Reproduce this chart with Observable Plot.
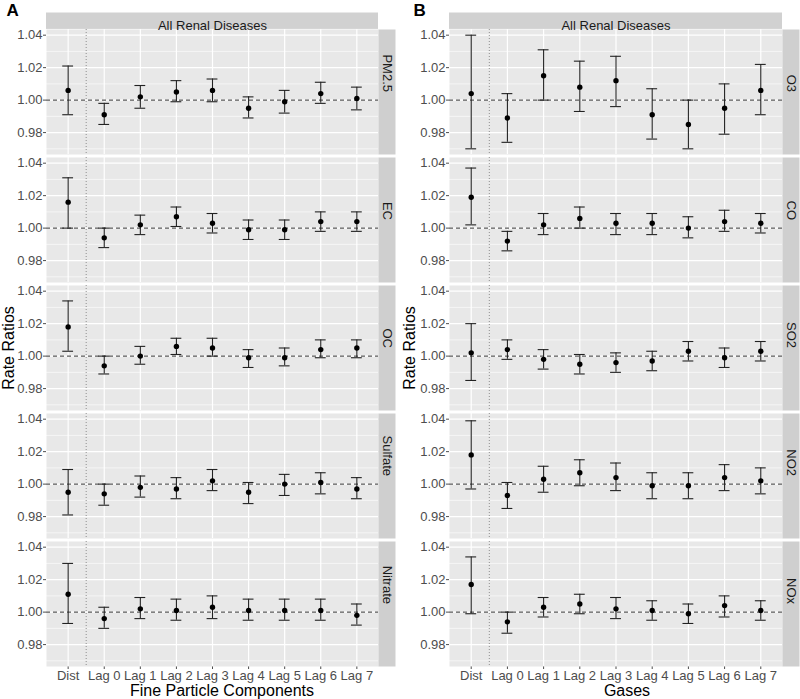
<!DOCTYPE html>
<html><head><meta charset="utf-8">
<script src="https://cdn.jsdelivr.net/npm/d3@7"></script>
<script src="https://cdn.jsdelivr.net/npm/@observablehq/plot@0.6"></script>
<style>
body{margin:0;background:#fff;}
#wrap{position:relative;width:800px;height:699px;overflow:hidden;font-family:"Liberation Sans",Arial,Helvetica,sans-serif;}
#A,#B{position:absolute;top:0;}
#A{left:0}#B{left:400px}
#overlay{position:absolute;left:0;top:0;pointer-events:none}
</style></head><body>
<div id="wrap"><div id="A"></div><div id="B"></div>
<svg id="overlay" width="800" height="699" font-family="Liberation Sans, Arial, sans-serif">
<text x="6.5" y="15.5" font-size="17" font-weight="bold" fill="#000">A</text>
<text x="413.5" y="15.5" font-size="17" font-weight="bold" fill="#000">B</text>
<text transform="translate(14,348) rotate(-90)" text-anchor="middle" font-size="16" fill="#000">Rate Ratios</text>
<text transform="translate(414.5,348) rotate(-90)" text-anchor="middle" font-size="16" fill="#000">Rate Ratios</text>
<text x="222" y="696" text-anchor="middle" font-size="16" fill="#000">Fine Particle Components</text>
<text x="627" y="696" text-anchor="middle" font-size="16" fill="#000">Gases</text>
</svg></div>
<script>
const lags = ["Dist","Lag 0","Lag 1","Lag 2","Lag 3","Lag 4","Lag 5","Lag 6","Lag 7"];
const particleNames = ["PM2.5","EC","OC","Sulfate","Nitrate"];
const gasNames = ["O3","CO","SO2","NO2","NOx"];
const stripTitle = "All Renal Diseases";
const yTicks = [0.98, 1.00, 1.02, 1.04];
const yMinor = [0.97, 0.99, 1.01, 1.03];

// [rate ratio, lower CI, upper CI] per lag
const pm25 = [[1.006,0.991,1.021],[0.991,0.985,0.998],[1.002,0.995,1.009],[1.005,0.999,1.012],[1.006,0.999,1.013],[0.995,0.989,1.002],[0.999,0.992,1.006],[1.004,0.998,1.011],[1.001,0.994,1.008]];
const ec = [[1.016,1.000,1.031],[0.994,0.988,1.000],[1.002,0.996,1.008],[1.007,1.001,1.013],[1.003,0.997,1.009],[0.999,0.993,1.005],[0.999,0.993,1.005],[1.004,0.998,1.010],[1.004,0.998,1.010]];
const oc = [[1.018,1.003,1.034],[0.994,0.989,1.000],[1.000,0.995,1.006],[1.006,1.001,1.011],[1.005,1.000,1.011],[0.999,0.993,1.004],[0.999,0.994,1.005],[1.004,0.999,1.010],[1.005,0.999,1.010]];
const sulfate = [[0.995,0.981,1.009],[0.994,0.987,1.000],[0.998,0.992,1.005],[0.997,0.991,1.004],[1.002,0.996,1.009],[0.995,0.988,1.001],[1.000,0.993,1.006],[1.001,0.994,1.007],[0.997,0.991,1.004]];
const nitrate = [[1.011,0.993,1.030],[0.996,0.990,1.003],[1.002,0.996,1.009],[1.001,0.995,1.008],[1.003,0.996,1.010],[1.001,0.995,1.008],[1.001,0.995,1.008],[1.001,0.995,1.008],[0.998,0.992,1.005]];
const o3 = [[1.004,0.970,1.040],[0.989,0.974,1.004],[1.015,1.000,1.031],[1.008,0.993,1.024],[1.012,0.996,1.027],[0.991,0.976,1.007],[0.985,0.970,1.000],[0.995,0.979,1.010],[1.006,0.991,1.022]];
const co = [[1.019,1.002,1.037],[0.992,0.986,0.998],[1.002,0.996,1.009],[1.006,1.000,1.013],[1.003,0.996,1.009],[1.003,0.996,1.009],[1.000,0.994,1.007],[1.004,0.998,1.011],[1.003,0.997,1.009]];
const so2 = [[1.002,0.985,1.020],[1.004,0.998,1.010],[0.998,0.992,1.004],[0.995,0.989,1.001],[0.996,0.990,1.002],[0.997,0.991,1.003],[1.003,0.997,1.009],[0.999,0.993,1.005],[1.003,0.997,1.009]];
const no2 = [[1.018,0.997,1.039],[0.993,0.985,1.001],[1.003,0.995,1.011],[1.007,0.999,1.015],[1.004,0.996,1.013],[0.999,0.991,1.007],[0.999,0.991,1.007],[1.004,0.996,1.012],[1.002,0.994,1.010]];
const nox = [[1.017,0.999,1.034],[0.994,0.987,1.000],[1.003,0.997,1.009],[1.005,0.999,1.011],[1.002,0.996,1.009],[1.001,0.995,1.007],[0.999,0.993,1.005],[1.004,0.997,1.010],[1.001,0.995,1.007]];

function rows(names, series) {
  const out = [];
  names.forEach((p, k) => series[k].forEach(([rr, lo, hi], i) =>
    out.push({pollutant: p, lag: lags[i], xi: i, rr, lo, hi})));
  return out;
}

function panel(names, series, mL, mR) {
  const W = 400, H = 699, mT = 29, mB = 32.5;
  const gap = 0.0234, stripW = 17, stripH = 16.5;
  const data = rows(names, series);
  const n = names.length;
  const bw = (H - mT - mB) / (n - gap) * (1 - gap);
  const pw = W - mL - mR;
  const ix = d3.range(lags.length);
  const first = names[0];
  return Plot.plot({
    width: W, height: H,
    marginTop: mT, marginBottom: mB, marginLeft: mL, marginRight: mR,
    style: {background: "transparent", fontFamily: "Liberation Sans, Arial, sans-serif", fontSize: "13px", color: "#4d4d4d"},
    facet: {data, y: "pollutant"},
    fy: {domain: names, axis: null, paddingInner: gap, paddingOuter: 0},
    x: {domain: [-0.6, lags.length - 1 + 0.6], ticks: ix, tickFormat: i => lags[i], tickSize: 3, tickPadding: 1, label: null},
    y: {domain: [0.9665, 1.0435], ticks: yTicks, tickFormat: d3.format(".2f"), tickSize: 3, tickPadding: 1, label: null},
    marks: [
      Plot.frame({fill: "#e8e8e8", stroke: "none"}),
      Plot.ruleY(yMinor, {stroke: "white", strokeWidth: 0.6}),
      Plot.ruleY(yTicks, {stroke: "white", strokeWidth: 1.2}),
      Plot.ruleX(ix, {stroke: "white", strokeWidth: 1.2}),
      Plot.frame({fill: "#cfcfcf", stroke: "none", insetLeft: pw, insetRight: -stripW}),
      Plot.text(data, {filter: d => d.xi === 0, text: "pollutant", frameAnchor: "right", dx: stripW / 2, rotate: 90, fill: "#1a1a1a", fontSize: 13}),
      Plot.rect(data, {filter: d => d.pollutant === first && d.xi === 0, fill: "#d1d1d1", insetTop: -stripH, insetBottom: bw}),
      Plot.text(data, {filter: d => d.pollutant === first && d.xi === 0, text: () => stripTitle, frameAnchor: "top", dy: -stripH / 2, fill: "#1a1a1a", fontSize: 13}),
      Plot.ruleX([0.5], {stroke: "#777", strokeWidth: 0.8, strokeDasharray: "1,2"}),
      Plot.ruleY([1], {stroke: "#333", strokeWidth: 1, strokeDasharray: "4,3"}),
      Plot.ruleX(data, {x: "xi", y1: "lo", y2: "hi", stroke: "#222", strokeWidth: 1.1}),
      Plot.ruleY(data, {y: "lo", x1: d => d.xi - 0.15, x2: d => d.xi + 0.15, stroke: "#222", strokeWidth: 1.1}),
      Plot.ruleY(data, {y: "hi", x1: d => d.xi - 0.15, x2: d => d.xi + 0.15, stroke: "#222", strokeWidth: 1.1}),
      Plot.dot(data, {x: "xi", y: "rr", r: 2.7, fill: "black", stroke: "none"})
    ]
  });
}

document.getElementById("A").append(panel(particleNames, [pm25, ec, oc, sulfate, nitrate], 46, 22));
document.getElementById("B").append(panel(gasNames, [o3, co, so2, no2, nox], 49, 18));
</script>
</body></html>
